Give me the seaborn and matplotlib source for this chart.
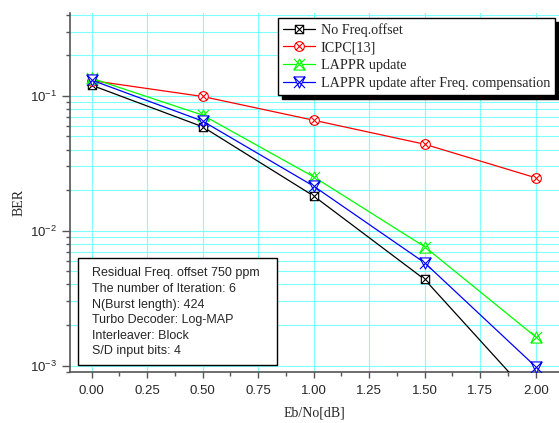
import numpy as np
import matplotlib
matplotlib.use("Agg")
import matplotlib.pyplot as plt
import matplotlib.ticker as mticker
from matplotlib.path import Path
from matplotlib.patches import Rectangle
import seaborn as sns

# ---- data ----
ebno = [0.0, 0.5, 1.0, 1.5, 2.0]
ber_no_offset = [0.120, 0.059, 0.0181, 0.00435, 0.00054]
ber_icpc = [0.130, 0.099, 0.066, 0.0438, 0.0247]
ber_lappr = [0.135, 0.072, 0.0251, 0.0076, 0.00163]
ber_lappr_comp = [0.131, 0.065, 0.0214, 0.00578, 0.00098]
series_labels = ["No Freq.offset", "ICPC[13]", "LAPPR update",
                 "LAPPR update after Freq. compensation"]
info_lines = ["Residual Freq. offset 750 ppm",
              "The number of Iteration: 6",
              "N(Burst length): 424",
              "Turbo Decoder: Log-MAP",
              "Interleaver: Block",
              "S/D input bits: 4"]
x_ticks = [0.0, 0.25, 0.5, 0.75, 1.0, 1.25, 1.5, 1.75, 2.0]

sns.set_style("white")
plt.rcParams["font.family"] = ["Liberation Sans", "DejaVu Sans"]
plt.rcParams["mathtext.fontset"] = "custom"
plt.rcParams["mathtext.rm"] = "Liberation Sans"
plt.rcParams["mathtext.it"] = "Liberation Sans:italic"
plt.rcParams["mathtext.bf"] = "Liberation Sans:bold"

# ---- composite markers ----
X = Path([(-1, -1), (1, 1), (-1, 1), (1, -1)],
         [Path.MOVETO, Path.LINETO, Path.MOVETO, Path.LINETO])
sq = Path([(-1, -1), (1, -1), (1, 1), (-1, 1), (-1, -1)],
          [Path.MOVETO, Path.LINETO, Path.LINETO, Path.LINETO, Path.CLOSEPOLY])
r = 0.7071
Xc = Path([(-r, -r), (r, r), (-r, r), (r, -r)],
          [Path.MOVETO, Path.LINETO, Path.MOVETO, Path.LINETO])
circ = Path.unit_circle()
tri_up = Path([(0, 1), (-1, -1), (1, -1), (0, 1)],
              [Path.MOVETO, Path.LINETO, Path.LINETO, Path.CLOSEPOLY])
tri_dn = Path([(0, -1), (-1, 1), (1, 1), (0, -1)],
              [Path.MOVETO, Path.LINETO, Path.LINETO, Path.CLOSEPOLY])
m_sq = Path.make_compound_path(sq, X)
m_circ = Path.make_compound_path(circ, Xc)
m_up = Path.make_compound_path(tri_up, X)
m_dn = Path.make_compound_path(tri_dn, X)

fig = plt.figure(figsize=(5.59, 4.23), dpi=100)
ax = fig.add_axes([70 / 559, 51 / 423, 489 / 559, 358.7 / 423])

styles = [
    (ber_no_offset, "black", m_sq, 6.0),
    (ber_icpc, "#ff0000", m_circ, 7.0),
    (ber_lappr, "#00ff00", m_up, 8.0),
    (ber_lappr_comp, "#0000ff", m_dn, 8.0),
]
for vals, col, mk, ms in styles:
    sns.lineplot(x=ebno, y=vals, ax=ax, color=col, marker=mk, markersize=ms,
                 markerfacecolor="white", markeredgecolor=col,
                 markeredgewidth=0.8, linewidth=0.9, legend=False, zorder=3)

ax.set_yscale("log")
ax.set_xlim(-0.0977, 2.105)
ax.set_ylim(0.000895, 0.41)

ax.xaxis.set_major_locator(mticker.FixedLocator(x_ticks))
ax.xaxis.set_major_formatter(mticker.FormatStrFormatter("%.2f"))
ax.xaxis.set_minor_locator(mticker.MultipleLocator(0.125))
ax.yaxis.set_major_locator(mticker.LogLocator(base=10))
ax.yaxis.set_minor_locator(mticker.LogLocator(base=10, subs=np.arange(2, 10)))
ax.yaxis.set_minor_formatter(mticker.NullFormatter())

grid_col = "#80ffff"
ax.grid(which="major", axis="x", color=grid_col, linewidth=0.8)
ax.grid(which="both", axis="y", color=grid_col, linewidth=0.8)
ax.set_axisbelow(True)

for s in ["top", "right"]:
    ax.spines[s].set_visible(False)
for s in ["left", "bottom"]:
    ax.spines[s].set_color("#555555")
    ax.spines[s].set_linewidth(1.2)

ax.tick_params(axis="both", which="major", direction="out", color="#555555",
               width=1.0, labelsize=9.5, left=True, bottom=True)
ax.tick_params(axis="y", which="major", length=6, pad=3.5)
ax.tick_params(axis="x", which="major", length=4.5, pad=5)
ax.tick_params(axis="both", which="minor", direction="out", color="#555555",
               width=1.0, length=3, left=True, bottom=True)

ax.set_xlabel("Eb/No[dB]", family="Liberation Serif", fontsize=10)
ax.set_ylabel("BER", family="Liberation Serif", fontsize=10)
ax.xaxis.label.set_va("center")
ax.yaxis.label.set_va("center")
ax.xaxis.set_label_coords(0.5, -(413.3 - 372) / 358.7)
ax.yaxis.set_label_coords(-(70 - 19) / 489, (372 - 202) / 358.7)

leg = ax.legend(ax.get_lines()[:4], series_labels, loc="upper right",
                bbox_to_anchor=(0.992, 0.986), borderaxespad=0,
                prop={"family": "Liberation Serif", "size": 10.2},
                frameon=True, fancybox=False, framealpha=1,
                edgecolor="black", facecolor="white",
                handlelength=2.3, handletextpad=0.4, labelspacing=0.3,
                borderpad=0.35,
                shadow={"ox": 3, "oy": -3, "facecolor": "black",
                        "edgecolor": "black", "alpha": 1})
leg.get_frame().set_linewidth(1.0)
leg.set_zorder(10)

# info box
axh = 358.7
box = Rectangle((8.3 / 489, (372 - 365) / axh), 198.4 / 489, 106.7 / axh,
                transform=ax.transAxes, facecolor="white", edgecolor="black",
                linewidth=1.0, zorder=6)
ax.add_patch(box)
centers = [273.3, 289.0, 304.5, 320.0, 335.7, 351.0]
for line, yc in zip(info_lines, centers):
    ax.text((92.3 - 70) / 489, (372 - yc) / axh, line, transform=ax.transAxes,
            ha="left", va="center", fontsize=9, family="Liberation Sans",
            zorder=7)

fig.savefig("out.png", dpi=100)
